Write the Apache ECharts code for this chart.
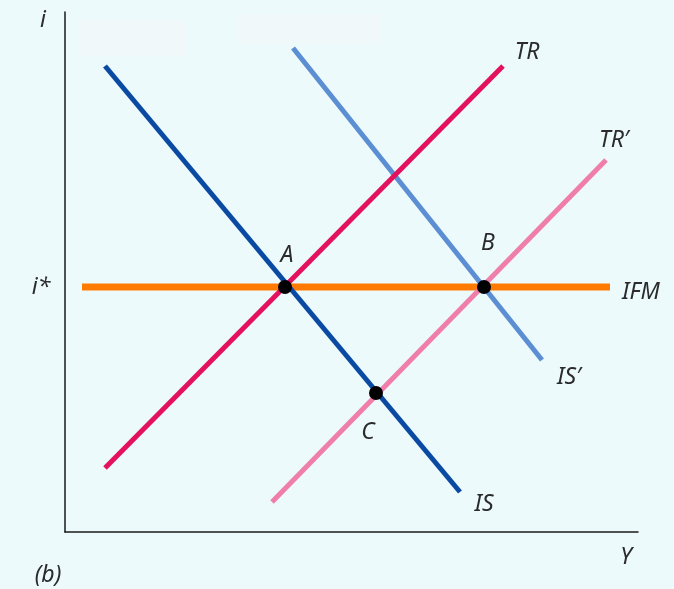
<!DOCTYPE html>
<html>
<head>
<meta charset="utf-8">
<script src="https://cdn.jsdelivr.net/npm/echarts@6/dist/echarts.min.js"></script>
<style>
  html, body { margin: 0; padding: 0; background: #ecfafc; }
  #chart { width: 674px; height: 589px; }
</style>
</head>
<body>
<div id="chart"></div>
<script>
// Curve endpoints in diagram units (output Y across, interest rate i up)
const isCurve      = [[40, 466], [395, 40]];
const isPrimeCurve = [[228, 484], [477, 172]];
const trCurve      = [[40, 64], [438, 466]];
const trPrimeCurve = [[207, 30], [541, 372]];
const ifmCurve     = [[17, 245], [545, 245]];
// Equilibrium points
const pointNames = ['A', 'B', 'C'];
const pointValues = [[220, 245], [419, 245], [311, 139]];
// Curve labels
const curveNames = ['IS', "IS\u2032", 'TR', "TR\u2032", 'IFM'];

const FONT = '"Noto Sans", "Open Sans", sans-serif';
const TXT = '#2b2b2b';
const SIZE = 23;

const labelStyle = (offset) => ({
  show: true, position: 'inside', offset: offset,
  fontFamily: FONT, fontStyle: 'italic', fontSize: SIZE, color: TXT
});

function lineSeries(name, data, color, width, labelOffset, z) {
  return {
    type: 'line', name: name, data: data, z: z,
    symbol: 'none', silent: true, animation: false,
    lineStyle: { color: color, width: width, cap: 'butt' },
    markPoint: {
      symbol: 'circle', symbolSize: 1, itemStyle: { color: 'transparent' },
      label: Object.assign(labelStyle(labelOffset), { formatter: name }),
      data: [{ coord: data[1] }]
    }
  };
}

function axisText(text, x, y) {
  return {
    type: 'text', x: x, y: y,
    style: { text: text, font: 'italic ' + SIZE + 'px ' + FONT, fill: TXT,
             align: 'center', verticalAlign: 'middle' }
  };
}

const chart = echarts.init(document.getElementById('chart'), null, { renderer: 'canvas' });
chart.setOption({
  backgroundColor: '#ecfafc',
  animation: false,
  grid: { left: 65, top: 12, right: 36, bottom: 57 },
  xAxis: {
    type: 'value', min: 0, max: 573,
    axisLine: { show: true, lineStyle: { color: '#1a1a1a', width: 1.5 } },
    axisTick: { show: false }, axisLabel: { show: false }, splitLine: { show: false }
  },
  yAxis: {
    type: 'value', min: 0, max: 520,
    axisLine: { show: true, lineStyle: { color: '#1a1a1a', width: 1.5 } },
    axisTick: { show: false }, axisLabel: { show: false }, splitLine: { show: false }
  },
  graphic: [
    { type: 'rect', shape: { x: 80, y: 20, width: 106, height: 36 }, style: { fill: '#f1f8f9' }, z: -1 },
    { type: 'rect', shape: { x: 237, y: 14, width: 144, height: 29 }, style: { fill: '#f1f8f9' }, z: -1 },
    axisText('i', 43, 20),
    axisText('i*', 41, 287),
    axisText('Y', 626, 557),
    axisText('(b)', 48, 575)
  ],
  series: [
    lineSeries(curveNames[4], ifmCurve, '#ff7a00', 7, [31, 5], 2),
    lineSeries(curveNames[1], isPrimeCurve, '#5b8ed2', 5, [27, 17], 3),
    lineSeries(curveNames[3], trPrimeCurve, '#f07eaa', 5, [8, -20], 3),
    lineSeries(curveNames[0], isCurve, '#0b4aa2', 5, [24, 12], 4),
    lineSeries(curveNames[2], trCurve, '#e4115f', 5, [24, -14], 4),
    {
      type: 'scatter', z: 10, silent: true,
      symbol: 'circle', symbolSize: 14,
      itemStyle: { color: '#000', opacity: 1 },
      data: pointValues.map((v, i) => ({
        value: v,
        label: Object.assign(labelStyle([[2, -32], [4, -44], [-8, 39]][i]), { formatter: pointNames[i] })
      }))
    }
  ]
});
</script>
</body>
</html>
